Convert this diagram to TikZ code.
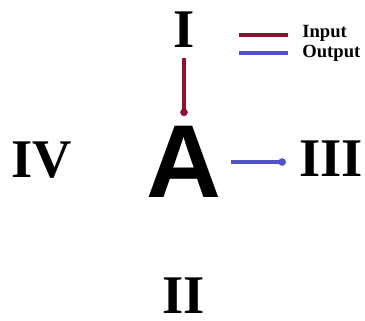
\documentclass[tikz,border=0pt]{standalone}
\usepackage{fontspec}
\setmainfont{Liberation Serif}
\newfontfamily\letterfont{Liberation Sans}
\usetikzlibrary{arrows.meta}
\definecolor{inred}{RGB}{140,18,48}
\definecolor{outblue}{RGB}{82,82,200}

\begin{document}
\begin{tikzpicture}[x=0.02cm, y=-0.02cm, num/.style = {inner sep=0pt, font=\fontsize{31}{31}\selectfont\bfseries}, big/.style = {inner sep=0pt, font=\fontsize{59}{59}\selectfont\letterfont\bfseries}, key/.style = {inner sep=0pt, anchor=base west, font=\fontsize{10.6}{10.6}\selectfont\bfseries}, input/.style = {draw=inred, line width=1.9pt}, output/.style = {draw=outblue, line width=1.9pt}, dot/.style = {-{Circle[length=4.2pt]}}]
\useasboundingbox (0,0) rectangle (365,321);
\node[num](n1) at (184,30) {I}; \node[num](n2) at (184,296) {II}; \node[num](n3) at (331,159) {III}; \node[num](n4) at (42,160) {IV};
\node[big](a) at (184,162) {A};
\node[key](in) at (302,37) {Input}; \node[key](out) at (302,57) {Output};
\coordinate(inl) at (239,35); \coordinate(outl) at (239,53);
\draw[input] (inl) -- ++(49,0); \draw[output] (outl) -- ++(49,0);
\draw[input, dot, shorten <=0.2cm, shorten >=0.2cm] (n1) -- (a);
\draw[output, dot, shorten <=0.18cm, shorten >=0.26cm] (a.east) -- (a.east -| n3.west);
\end{tikzpicture}
\end{document}
